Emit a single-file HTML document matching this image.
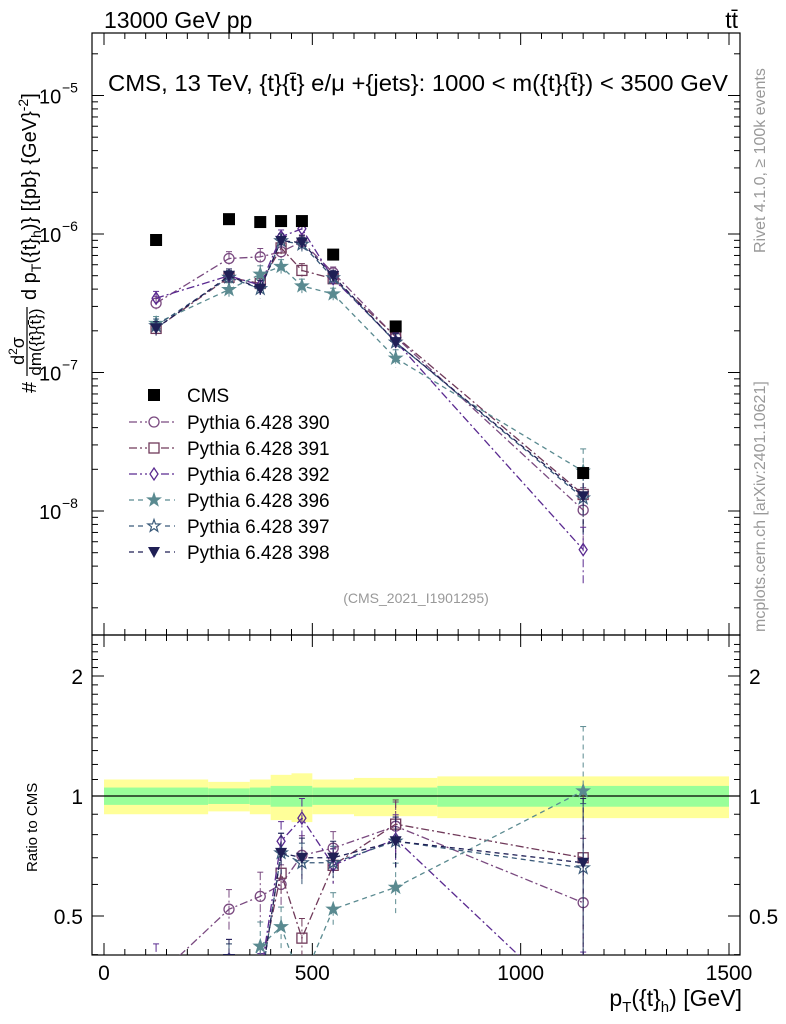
<!DOCTYPE html>
<html><head><meta charset="utf-8"><style>
html,body{margin:0;background:#fff;width:786px;height:1024px;overflow:hidden}
svg{font-family:"Liberation Sans",sans-serif;display:block}
</style></head><body>
<svg id="c" width="786" height="1024" xmlns="http://www.w3.org/2000/svg"></svg>
<script>
const categories=[125,300,375,425,475,550,700,1150];
const binEdges=[0,250,350,400,450,500,600,800,1500];
const cmsValues=[0.905e-6,1.28e-6,1.22e-6,1.24e-6,1.24e-6,0.71e-6,2.15e-7,1.88e-8];
const bandGreen=[0.05,0.045,0.05,0.06,0.06,0.05,0.05,0.06];
const bandYellow=[0.1,0.085,0.1,0.13,0.14,0.1,0.11,0.12];
const r390=[0.35,0.52,0.56,0.60,0.71,0.74,0.84,0.54];
const r391=[0.23,0.38,0.36,0.64,0.44,0.67,0.85,0.70];
const r392=[0.38,0.39,0.35,0.77,0.88,0.67,0.78,0.28];
const r396=[0.25,0.31,0.42,0.47,0.34,0.52,0.59,1.03];
const r397=[0.24,0.38,0.33,0.72,0.68,0.68,0.77,0.66];
const r398=[0.23,0.39,0.33,0.72,0.70,0.70,0.77,0.68];
const relErr=[0.12,0.12,0.15,0.12,0.12,0.1,0.15,0.45];
const yTicks=[1e-8,1e-7,1e-6,1e-5];
const yTickLabels=["10","10","10","10"];
const yTickExp=["−8","−7","−6","−5"];
const xTicks=[0,500,1000,1500];
const rTicks=[0.5,1,2];

const S=document.getElementById('c');const NS='http://www.w3.org/2000/svg';
function el(t,a,p){const e=document.createElementNS(NS,t);for(const k in a)e.setAttribute(k,a[k]);(p||S).appendChild(e);return e;}
const L=92,R=740,T=33,MB=635,RB=955;
const X=v=>104+v*(625/1500);
const Y=v=>234-(Math.log10(v)+6)*138.5;
const RY=v=>796-120*Math.log2(v);
const clipR=el('clipPath',{id:'cr'});el('rect',{x:L,y:MB,width:R-L,height:RB-MB},clipR);
const clipM=el('clipPath',{id:'cm'});el('rect',{x:L,y:T,width:R-L,height:MB-T},clipM);

const gB=el('g',{'clip-path':'url(#cr)'});

for(let i=0;i<categories.length;i++){
 const x0=X(binEdges[i]),x1=X(binEdges[i+1]);
 el('rect',{x:x0,y:RY(1+bandYellow[i]),width:x1-x0,height:RY(1-bandYellow[i])-RY(1+bandYellow[i]),fill:'#ffff99'},gB);
 el('rect',{x:x0,y:RY(1+bandGreen[i]),width:x1-x0,height:RY(1-bandGreen[i])-RY(1+bandGreen[i]),fill:'#99ff99'},gB);
}
el('line',{x1:L,x2:R,y1:RY(1),y2:RY(1),stroke:'#000','stroke-width':1.2});

const f1=el('rect',{x:L,y:T,width:R-L,height:MB-T,fill:'none',stroke:'#000','stroke-width':1.2});

const f2=el('rect',{x:L,y:MB,width:R-L,height:RB-MB,fill:'none',stroke:'#000','stroke-width':1.2});


for(let d=-9;d<=-5;d++){for(let m=1;m<10;m++){const v=m*Math.pow(10,d);const y=Y(v);if(y<T||y>MB)continue;const len=m==1?12:6;
 el('line',{x1:L,x2:L+len,y1:y,y2:y,stroke:'#000'});el('line',{x1:R,x2:R-len,y1:y,y2:y,stroke:'#000'});}}
yTicks.forEach((v,i)=>{const t=el('text',{x:39,y:Y(v)+8,'font-size':20});t.textContent=yTickLabels[i];
 
 const e=el('text',{x:62,y:Y(v)-3,'font-size':14});e.textContent=yTickExp[i];});
for(let v=0;v<=1500;v+=50){const x=X(v);const big=v%500==0;const len=big?12:6;
 el('line',{x1:x,x2:x,y1:RB,y2:RB-len,stroke:'#000'});el('line',{x1:x,x2:x,y1:MB,y2:MB-len,stroke:'#000'});el('line',{x1:x,x2:x,y1:MB,y2:MB+len,stroke:'#000'});el('line',{x1:x,x2:x,y1:T,y2:T+len,stroke:'#000'});}
xTicks.forEach(v=>{const t=el('text',{x:X(v),y:980,'font-size':21,'text-anchor':'middle'});t.textContent=v;
 });
for(let v=0.4;v<=2.5;v+=0.1){const y=RY(v);if(y<MB||y>RB)continue;const big=[0.5,1,2].some(b=>Math.abs(b-v)<1e-6);const len=big?12:6;
 el('line',{x1:L,x2:L+len,y1:y,y2:y,stroke:'#000'});el('line',{x1:R,x2:R-len,y1:y,y2:y,stroke:'#000'});}
rTicks.forEach(v=>{const t=el('text',{x:83,y:RY(v)+8,'font-size':21,'text-anchor':'end'});t.textContent=v;
 
 const t2=el('text',{x:749,y:RY(v)+8,'font-size':21});t2.textContent=v;});

function marker(g,type,x,y,c){
 const s=5;
 if(type=='sq')el('rect',{x:x-6,y:y-6,width:12,height:12,fill:'#000'},g);
 else if(type=='circ')el('circle',{cx:x,cy:y,r:s,fill:'none',stroke:c,'stroke-width':1.3},g);
 else if(type=='osq')el('rect',{x:x-s,y:y-s,width:2*s,height:2*s,fill:'none',stroke:c,'stroke-width':1.3},g);
 else if(type=='dia')el('polygon',{points:`${x},${y-6} ${x+4},${y} ${x},${y+6} ${x-4},${y}`,fill:'none',stroke:c,'stroke-width':1.3},g);
 else if(type=='star'||type=='ostar'){let p=[];for(let k=0;k<10;k++){const r=k%2?2.6:6.5;const a=-Math.PI/2+k*Math.PI/5;p.push((x+r*Math.cos(a)).toFixed(1)+','+(y+r*Math.sin(a)).toFixed(1));}
  el('polygon',{points:p.join(' '),fill:type=='star'?c:'none',stroke:c,'stroke-width':1.2},g);}
 else if(type=='tri')el('polygon',{points:`${x-6},${y-5} ${x+6},${y-5} ${x},${y+6}`,fill:c},g);
}
const series=[
 {n:'390',r:r390,c:'#7a4a80',m:'circ',d:'8,3,2,3'},
 {n:'391',r:r391,c:'#703a5a',m:'osq',d:'8,3,2,3'},
 {n:'392',r:r392,c:'#5a2a90',m:'dia',d:'8,3,2,3'},
 {n:'396',r:r396,c:'#5a8a90',m:'star',d:'5,4'},
 {n:'397',r:r397,c:'#3a5a7a',m:'ostar',d:'5,4'},
 {n:'398',r:r398,c:'#1f1f55',m:'tri',d:'5,4'}];
series.forEach(s=>{
 const gm=el('g',{'clip-path':'url(#cm)'});
 
 const gr=el('g',{'clip-path':'url(#cr)'});
 
 const pm=[],pr=[];
 categories.forEach((cx,i)=>{const v=s.r[i]*cmsValues[i];const x=X(cx);
  const ym=Y(v),yr=RY(s.r[i]);pm.push(x+','+ym);pr.push(x+','+yr);
  const e=relErr[i];
  el('line',{x1:x,x2:x,y1:Y(v*(1+e)),y2:Y(Math.max(v*(1-e),1e-12)),stroke:s.c,'stroke-dasharray':s.d},gm);
  el('line',{x1:x,x2:x,y1:RY(s.r[i]*(1+e)),y2:RY(Math.max(s.r[i]*(1-e),0.01)),stroke:s.c,'stroke-dasharray':s.d},gr);
  [Y(v*(1+e)),RY(s.r[i]*(1+e))].forEach((yy,j)=>el('line',{x1:x-3,x2:x+3,y1:yy,y2:yy,stroke:s.c},j?gr:gm));
 });
 el('polyline',{points:pm.join(' '),fill:'none',stroke:s.c,'stroke-width':1.3,'stroke-dasharray':s.d},gm);
 el('polyline',{points:pr.join(' '),fill:'none',stroke:s.c,'stroke-width':1.3,'stroke-dasharray':s.d},gr);
 categories.forEach((cx,i)=>{marker(gm,s.m,X(cx),Y(s.r[i]*cmsValues[i]),s.c);marker(gr,s.m,X(cx),RY(s.r[i]),s.c);});
});
const gc=el('g',{});
categories.forEach((cx,i)=>marker(gc,'sq',X(cx),Y(cmsValues[i]),'#000'));

const gl=el('g',{});
const ly=[395,422,448,474,500,526,552];
marker(gl,'sq',154,ly[0],'#000');
let t=el('text',{x:187,y:ly[0]+7,'font-size':19},gl);t.textContent='CMS';
series.forEach((s,i)=>{const y=ly[i+1];
 el('line',{x1:129,x2:175,y1:y,y2:y,stroke:s.c,'stroke-width':1.3,'stroke-dasharray':s.d},gl);
 el('rect',{x:147,y:y-7,width:14,height:14,fill:'#fff'},gl);
 marker(gl,s.m,154,y,s.c);
 const tt=el('text',{x:187,y:y+7,'font-size':19},gl);tt.textContent='Pythia 6.428 '+s.n;
 });

function txt(x,y,s,str,attrs,name){const e=el('text',Object.assign({x:x,y:y,'font-size':s},attrs||{}));e.textContent=str;return e;}
txt(104,28,23,'13000 GeV pp',{},'energy-label');
txt(738,28,23,'tt̄',{'text-anchor':'end'},'process-label');
txt(108,91,23,'CMS, 13 TeV, {t}{t̄} e/μ +{jets}: 1000 < m({t}{t̄}) < 3500 GeV',{textLength:620,lengthAdjust:'spacingAndGlyphs'},'plot-title');
txt(416,603,14,'(CMS_2021_I1901295)',{'text-anchor':'middle',fill:'#999'},'analysis-id');
const xt=el('text',{x:742,y:1006,'font-size':23,'text-anchor':'end'});
xt.innerHTML='p<tspan font-size="15" dy="6">T</tspan><tspan dy="-6">({t}</tspan><tspan font-size="15" dy="6">h</tspan><tspan dy="-6">) [GeV]</tspan>';
const yg=el('g',{transform:'translate(36,393) rotate(-90)'});

el('text',{x:0,y:0,'font-size':20},yg).textContent='#';
const nu=el('text',{x:42,y:-12,'font-size':18,'text-anchor':'middle'},yg);nu.innerHTML='d<tspan font-size="12" dy="-7">2</tspan><tspan dy="7">σ</tspan>';
el('line',{x1:17,x2:86,y1:-9,y2:-9,stroke:'#000','stroke-width':1.2},yg);
el('text',{x:51,y:5,'font-size':17,'text-anchor':'middle'},yg).textContent='dm({t}{t̄})';
const mt=el('text',{x:93,y:0,'font-size':20},yg);
mt.innerHTML='d p<tspan font-size="14" dy="5">T</tspan><tspan dy="-5">({t}</tspan><tspan font-size="14" dy="5">h</tspan><tspan dy="-5">)} [{pb} {GeV}</tspan><tspan font-size="14" dy="-8">-2</tspan><tspan dy="8">]</tspan>';
txt(0,0,15,'Ratio to CMS',{transform:'translate(37,872) rotate(-90)'},'ratio-axis-title');
txt(0,0,16,'Rivet 4.1.0, ≥ 100k events',{transform:'translate(765,253) rotate(-90)',fill:'#999'},'rivet-label');
txt(0,0,16,'mcplots.cern.ch [arXiv:2401.10621]',{transform:'translate(765,632) rotate(-90)',fill:'#999'},'mcplots-label');
</script>
</body></html>
